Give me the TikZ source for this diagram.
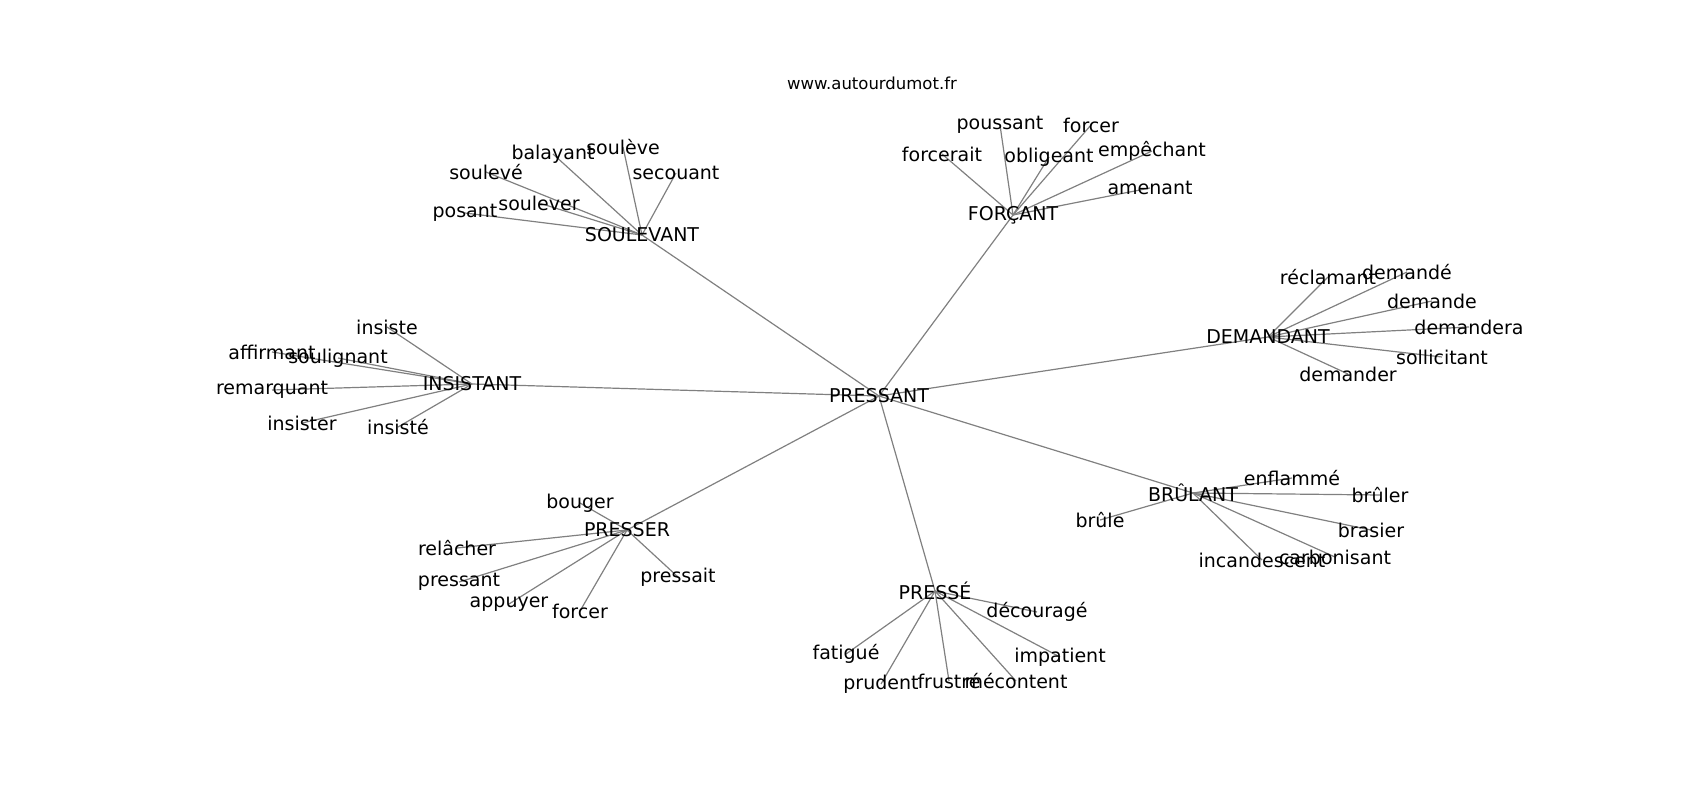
\documentclass[tikz,border=0pt]{standalone}
\usepackage{fontspec}
\setmainfont{DejaVu Sans}
\usetikzlibrary{backgrounds}
\tikzset{
  word/.style={inner sep=0pt, font=\fontsize{19}{23}\selectfont},
  hub/.style={word},
  link/.style={draw=black!50, line width=1.2pt},
}
\begin{document}
\begin{tikzpicture}[x=1pt,y=-1pt]
  \useasboundingbox (0,0) rectangle (1700,800);
  \node at (872,83) [inner sep=0pt, font=\fontsize{16.5}{20}\selectfont] (site) {www.autourdumot.fr};
  % centre
  \node at (879,396) [hub] (pressant) {PRESSANT};
  % les sept voisins
  \node at (642,235) [hub] (soulevant) {SOULEVANT};
  \node at (1013,215) [hub] (forcant) {FORÇANT};
  \node at (1268,337) [hub] (demandant) {DEMANDANT};
  \node at (472,384) [hub] (insistant) {INSISTANT};
  \node at (627,530) [hub] (presser) {PRESSER};
  \node at (935,591) [hub] (presse) {PRESSÉ};
  \node at (1193,493) [hub] (brulant) {BRÛLANT};
  % SOULEVANT
  \node at (465,213) [word] (posant) {posant};
  \node at (486,172) [word] (souleve) {soulevé};
  \node at (539,203) [word] (soulever) {soulever};
  \node at (553,154) [word] (balayant) {balayant};
  \node at (623,147) [word] (souleve2) {soulève};
  \node at (676,173) [word] (secouant) {secouant};
  % FORÇANT
  \node at (1000,125) [word] (poussant) {poussant};
  \node at (1091,125) [word] (forcerF) {forcer};
  \node at (942,154) [word] (forcerait) {forcerait};
  \node at (1049,157) [word] (obligeant) {obligeant};
  \node at (1152,151) [word] (empechant) {empêchant};
  \node at (1150,188) [word] (amenant) {amenant};
  % DEMANDANT
  \node at (1328,277) [word] (reclamant) {réclamant};
  \node at (1407,272) [word] (demandeE) {demandé};
  \node at (1432,301) [word] (demande) {demande};
  \node at (1469,327) [word] (demandera) {demandera};
  \node at (1442,357) [word] (sollicitant) {sollicitant};
  \node at (1348,374) [word] (demander) {demander};
  % INSISTANT
  \node at (387,327) [word] (insiste) {insiste};
  \node at (272,352) [word] (affirmant) {affirmant};
  \node at (338,358) [word] (soulignant) {soulignant};
  \node at (272,390) [word] (remarquant) {remarquant};
  \node at (302,423) [word] (insister) {insister};
  \node at (398,427) [word] (insisteE) {insisté};
  % PRESSER
  \node at (580,503) [word] (bouger) {bouger};
  \node at (457,548) [word] (relacher) {relâcher};
  \node at (459,582) [word] (pressantP) {pressant};
  \node at (509,604) [word] (appuyer) {appuyer};
  \node at (580,611) [word] (forcerP) {forcer};
  \node at (678,577) [word] (pressait) {pressait};
  % PRESSÉ
  \node at (1037,612) [word] (decourage) {découragé};
  \node at (846,654) [word] (fatigue) {fatigué};
  \node at (1060,657) [word] (impatient) {impatient};
  \node at (881,684) [word] (prudent) {prudent};
  \node at (949,681) [word] (frustre) {frustré};
  \node at (1016,681) [word] (mecontent) {mécontent};
  % BRÛLANT
  \node at (1292,478) [word] (enflamme) {enflammé};
  \node at (1380,495) [word] (bruler) {brûler};
  \node at (1100,520) [word] (brule) {brûle};
  \node at (1371,530) [word] (brasier) {brasier};
  \node at (1262,560) [word] (incandescent) {incandescent};
  \node at (1335,557) [word] (carbonisant) {carbonisant};
  \begin{pgfonlayer}{background}
    \draw[link] (pressant.center) -- (soulevant.center);
    \draw[link] (pressant.center) -- (forcant.center);
    \draw[link] (pressant.center) -- (demandant.center);
    \draw[link] (pressant.center) -- (insistant.center);
    \draw[link] (pressant.center) -- (presser.center);
    \draw[link] (pressant.center) -- (presse.center);
    \draw[link] (pressant.center) -- (brulant.center);
    \draw[link] (soulevant.center) -- (posant.center);
    \draw[link] (soulevant.center) -- (souleve.center);
    \draw[link] (soulevant.center) -- (soulever.center);
    \draw[link] (soulevant.center) -- (balayant.center);
    \draw[link] (soulevant.center) -- (souleve2.center);
    \draw[link] (soulevant.center) -- (secouant.center);
    \draw[link] (forcant.center) -- (poussant.center);
    \draw[link] (forcant.center) -- (forcerF.center);
    \draw[link] (forcant.center) -- (forcerait.center);
    \draw[link] (forcant.center) -- (obligeant.center);
    \draw[link] (forcant.center) -- (empechant.center);
    \draw[link] (forcant.center) -- (amenant.center);
    \draw[link] (demandant.center) -- (reclamant.center);
    \draw[link] (demandant.center) -- (demandeE.center);
    \draw[link] (demandant.center) -- (demande.center);
    \draw[link] (demandant.center) -- (demandera.center);
    \draw[link] (demandant.center) -- (sollicitant.center);
    \draw[link] (demandant.center) -- (demander.center);
    \draw[link] (insistant.center) -- (insiste.center);
    \draw[link] (insistant.center) -- (affirmant.center);
    \draw[link] (insistant.center) -- (soulignant.center);
    \draw[link] (insistant.center) -- (remarquant.center);
    \draw[link] (insistant.center) -- (insister.center);
    \draw[link] (insistant.center) -- (insisteE.center);
    \draw[link] (presser.center) -- (bouger.center);
    \draw[link] (presser.center) -- (relacher.center);
    \draw[link] (presser.center) -- (pressantP.center);
    \draw[link] (presser.center) -- (appuyer.center);
    \draw[link] (presser.center) -- (forcerP.center);
    \draw[link] (presser.center) -- (pressait.center);
    \draw[link] (presse.center) -- (decourage.center);
    \draw[link] (presse.center) -- (fatigue.center);
    \draw[link] (presse.center) -- (impatient.center);
    \draw[link] (presse.center) -- (prudent.center);
    \draw[link] (presse.center) -- (frustre.center);
    \draw[link] (presse.center) -- (mecontent.center);
    \draw[link] (brulant.center) -- (enflamme.center);
    \draw[link] (brulant.center) -- (bruler.center);
    \draw[link] (brulant.center) -- (brule.center);
    \draw[link] (brulant.center) -- (brasier.center);
    \draw[link] (brulant.center) -- (incandescent.center);
    \draw[link] (brulant.center) -- (carbonisant.center);
  \end{pgfonlayer}
\end{tikzpicture}
\end{document}
